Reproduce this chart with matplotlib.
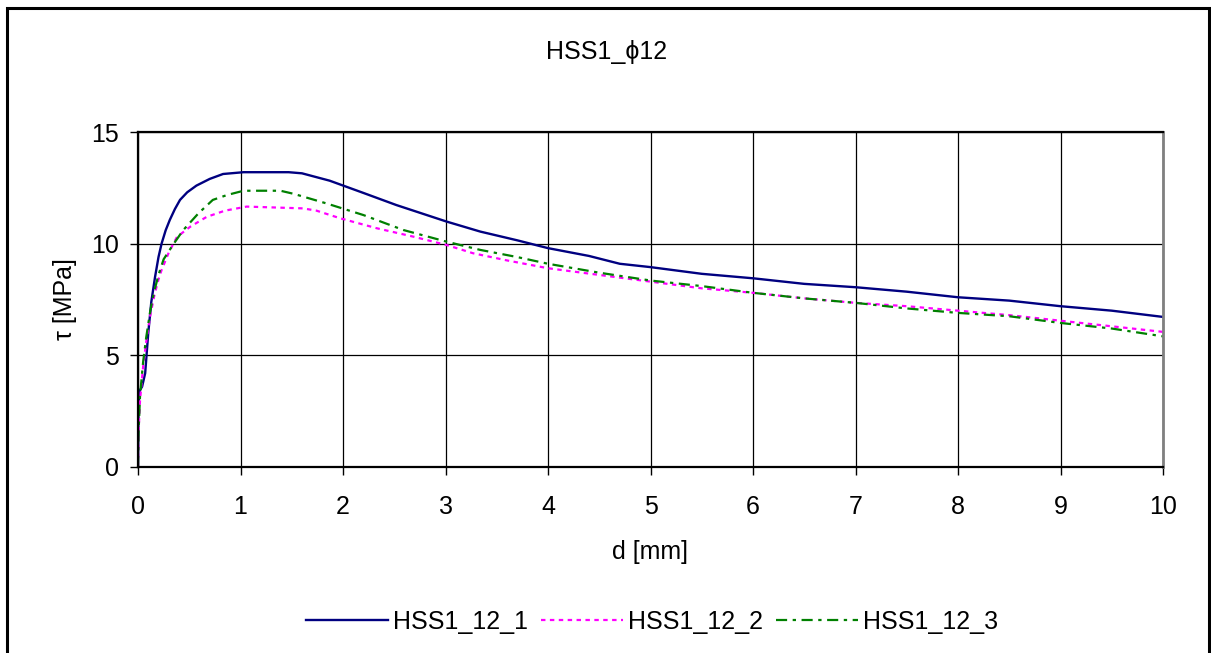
import matplotlib
matplotlib.use('Agg')
import matplotlib.pyplot as plt
from matplotlib.patches import Rectangle

plt.rcParams['font.family'] = ['Liberation Sans', 'DejaVu Sans']

# displacement d [mm] and bond stress tau [MPa]
d_1 = [0, 0.005, 0.01, 0.02, 0.04, 0.07, 0.1, 0.13, 0.166, 0.2, 0.23, 0.27, 0.31, 0.36, 0.41, 0.48,
       0.57, 0.7, 0.83, 1.03, 1.47, 1.6, 1.87, 2.2, 2.52, 3.01, 3.34, 3.7, 4.0, 4.4, 4.7, 5.0,
       5.5, 6.0, 6.5, 7.0, 7.5, 8.0, 8.5, 9.0, 9.5, 10.0]
tau_1 = [0, 2.7, 3.3, 3.45, 3.6, 4.2, 6.0, 7.4, 8.5, 9.4, 10.0, 10.6, 11.06, 11.55, 11.96, 12.3,
         12.6, 12.9, 13.12, 13.2, 13.2, 13.15, 12.82, 12.27, 11.73, 10.99, 10.54, 10.15, 9.8, 9.45, 9.1, 8.95,
         8.65, 8.45, 8.2, 8.05, 7.85, 7.6, 7.45, 7.2, 7.0, 6.72]

d_2 = [0, 0.005, 0.02, 0.05, 0.08, 0.12, 0.16, 0.2, 0.23, 0.3, 0.38, 0.51, 0.67, 0.85, 1.06, 1.61,
       1.74, 1.97, 2.33, 2.69, 3.01, 3.27, 3.6, 4.0, 4.5, 5.0, 5.5, 6.0, 6.5, 7.0, 7.5, 8.0,
       8.5, 9.0, 9.5, 10.0]
tau_2 = [0, 1.5, 3.0, 4.5, 5.6, 6.8, 7.7, 8.4, 8.82, 9.6, 10.3, 10.76, 11.2, 11.48, 11.66, 11.58,
         11.48, 11.14, 10.69, 10.31, 9.94, 9.57, 9.25, 8.9, 8.6, 8.3, 8.0, 7.8, 7.55, 7.35, 7.2, 7.0,
         6.8, 6.55, 6.3, 6.05]

d_3 = [0, 0.005, 0.02, 0.05, 0.08, 0.12, 0.16, 0.2, 0.25, 0.34, 0.44, 0.59, 0.73, 0.87, 1.03, 1.39,
       1.52, 1.84, 2.2, 2.59, 3.01, 3.34, 3.7, 4.0, 4.5, 5.0, 5.5, 6.0, 6.5, 7.0, 7.5, 8.0,
       8.5, 9.0, 9.5, 10.0]
tau_3 = [0, 1.5, 3.2, 4.7, 5.8, 7.0, 7.9, 8.6, 9.3, 9.94, 10.6, 11.36, 11.96, 12.18, 12.37, 12.37,
         12.23, 11.8, 11.28, 10.61, 10.09, 9.72, 9.4, 9.1, 8.7, 8.35, 8.1, 7.8, 7.55, 7.35, 7.1, 6.9,
         6.75, 6.45, 6.2, 5.85]

labels = ['HSS1_12_1', 'HSS1_12_2', 'HSS1_12_3']
x_ticks = list(range(0, 11))
y_ticks = [0, 5, 10, 15]

fs = 18
fig = plt.figure(figsize=(12.11, 6.53), dpi=100)
ax = fig.add_axes([138 / 1211, 1 - 467 / 653, (1163 - 138) / 1211, (467 - 132) / 653])

ax.plot(d_1, tau_1, color='#000080', lw=1.7, label=labels[0])
ax.plot(d_2, tau_2, color='#FF00FF', lw=1.6, linestyle=(0, (2, 2)), label=labels[1])
ax.plot(d_3, tau_3, color='#008000', lw=1.6, linestyle=(0, (5, 2.5, 1.5, 2.5)), label=labels[2])

ax.set_xlim(0, 10)
ax.set_ylim(0, 15)
ax.set_xticks(x_ticks)
ax.set_yticks(y_ticks)
ax.grid(True, color='black', lw=0.9)
ax.set_axisbelow(True)
ax.tick_params(direction='out', length=6, width=1, labelsize=fs)
ax.tick_params(axis='x', pad=14)
ax.tick_params(axis='y', pad=8)
for s in ['left', 'bottom', 'top']:
    ax.spines[s].set_linewidth(1.6)
    ax.spines[s].set_color('black')
ax.spines['right'].set_color('#808080')
ax.spines['right'].set_linewidth(2)

ax.set_xlabel('d [mm]', fontsize=fs, labelpad=15)
ax.set_ylabel('τ [MPa]', fontsize=fs, labelpad=10)

fig.text(607 / 1211, 1 - 52 / 653, 'HSS1_ϕ12', ha='center', va='center', fontsize=fs)

h, l = ax.get_legend_handles_labels()
fig.legend(h, l, loc='center', bbox_to_anchor=(652 / 1211, 1 - 622 / 653), ncol=3, frameon=False,
           fontsize=fs, handlelength=3.3, handletextpad=0.2, columnspacing=0.5)

# outer chart border
fig.patches.append(Rectangle((7 / 1211, -0.05), (1209 - 7) / 1211, 1.05 - 8 / 653, transform=fig.transFigure,
                             fill=False, edgecolor='black', lw=2.2))

fig.savefig('out.png', dpi=100)
